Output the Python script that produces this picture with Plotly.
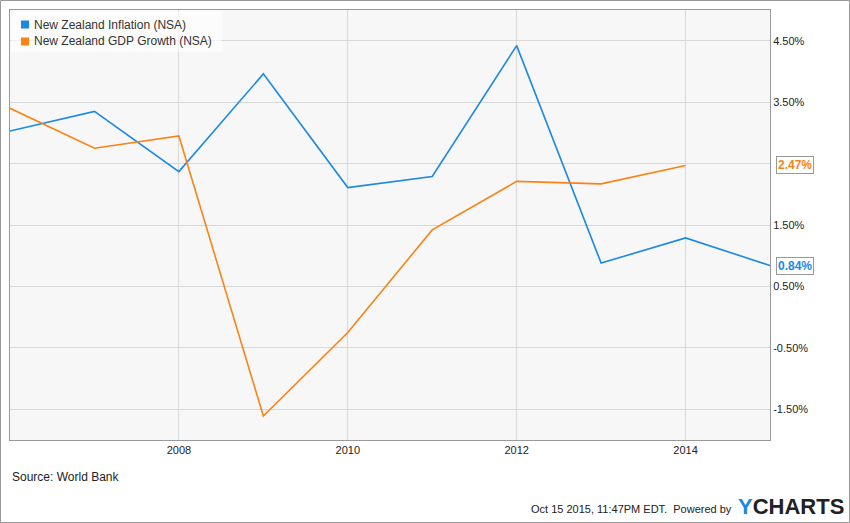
import plotly.graph_objects as go

years = [2006, 2007, 2008, 2009, 2010, 2011, 2012, 2013, 2014, 2015]
inflation = [3.03, 3.35, 2.37, 3.96, 2.11, 2.29, 4.42, 0.88, 1.29, 0.84]
gdp_years = [2006, 2007, 2008, 2009, 2010, 2011, 2012, 2013, 2014]
gdp = [3.40, 2.75, 2.95, -1.61, -0.25, 1.42, 2.21, 2.17, 2.47]
y_ticks = [-1.5, -0.5, 0.5, 1.5, 2.5, 3.5, 4.5]
y_tick_labels = ["-1.50%", "-0.50%", "0.50%", "1.50%", "", "3.50%", "4.50%"]
x_ticks = [2008, 2010, 2012, 2014]
series_names = ["New Zealand Inflation (NSA)", "New Zealand GDP Growth (NSA)"]

BLUE = "#1c88e6"
ORANGE = "#fa8316"
W, H = 850, 523
L, R, T, B = 10, 80, 10, 83
PW, PH = W - L - R, H - T - B

def px(x):
    return (x - L) / PW

def py(y):
    return 1 - (y - T) / PH

fig = go.Figure()
fig.add_trace(go.Scatter(x=years, y=inflation, mode="lines", name=series_names[0],
                         line=dict(color=BLUE, width=1.6), showlegend=False))
fig.add_trace(go.Scatter(x=gdp_years, y=gdp, mode="lines", name=series_names[1],
                         line=dict(color=ORANGE, width=1.6), showlegend=False))

fig.update_layout(
    width=W, height=H,
    margin=dict(l=L, r=R, t=T, b=B),
    paper_bgcolor="white", plot_bgcolor="#f7f7f7",
    font=dict(family="Liberation Sans, Arial, sans-serif", size=11, color="#333"),
    showlegend=False,
    xaxis=dict(range=[2006, 2015], tickvals=x_ticks, ticktext=[str(v) for v in x_ticks],
               showgrid=True, gridcolor="#d8d8d8", gridwidth=1, zeroline=False,
               showline=True, linecolor="#999", linewidth=1, mirror=True,
               ticks="", tickfont=dict(size=11, color="#222"), fixedrange=True),
    yaxis=dict(range=[-2.0, 5.0], side="right", tickvals=y_ticks, ticktext=y_tick_labels,
               showgrid=True, gridcolor="#d8d8d8", gridwidth=1, zeroline=False,
               showline=True, linecolor="#999", linewidth=1, mirror=True,
               ticks="", tickfont=dict(size=11, color="#222"), fixedrange=True),
)

# custom legend (box, square swatches, labels)
fig.add_shape(type="rect", xref="paper", yref="paper",
              x0=px(11), x1=px(222), y0=py(52), y1=py(11),
              line=dict(width=0), fillcolor="rgba(255,255,255,0.6)", layer="above")
for i, (nm, col) in enumerate(zip(series_names, [BLUE, ORANGE])):
    yc = 24.5 + 17 * i
    fig.add_shape(type="rect", xref="paper", yref="paper",
                  x0=px(21), x1=px(29), y0=py(yc + 4), y1=py(yc - 4),
                  line=dict(width=0), fillcolor=col, layer="above")
    fig.add_annotation(x=px(32), y=py(yc), xref="paper", yref="paper",
                       xanchor="left", yanchor="middle", text=nm, showarrow=False,
                       font=dict(size=12, color="#333"))

# end-value labels
for val, col in [(gdp[-1], ORANGE), (inflation[-1], BLUE)]:
    fig.add_annotation(x=px(776), y=val, xref="paper", yref="y", xanchor="left",
                       text=f"<b>{val:.2f}%</b>", showarrow=False,
                       font=dict(size=12, color=col), bgcolor="white",
                       bordercolor="#999", borderwidth=1, borderpad=1)

fig.add_annotation(x=px(10), y=py(477), xref="paper", yref="paper", xanchor="left", yanchor="middle",
                   text="Source: World Bank", showarrow=False, font=dict(size=12, color="#222"))
fig.add_annotation(x=px(734), y=py(509), xref="paper", yref="paper", xanchor="right", yanchor="middle",
                   text="Oct 15 2015, 11:47PM EDT.  Powered by", showarrow=False,
                   font=dict(size=11, color="#222"))
fig.add_annotation(x=px(736), y=py(507), xref="paper", yref="paper", xanchor="left", yanchor="middle",
                   text="<b><span style='color:#1c88e6'>Y</span>CHARTS</b>", showarrow=False,
                   font=dict(size=22, color="#222"))

# outer border
fig.add_shape(type="rect", xref="paper", yref="paper",
              x0=px(0.5), x1=px(W - 0.5), y0=py(H - 0.5), y1=py(0.5),
              line=dict(color="#999", width=1), fillcolor="rgba(0,0,0,0)", layer="above")

fig.write_html("out.html")
